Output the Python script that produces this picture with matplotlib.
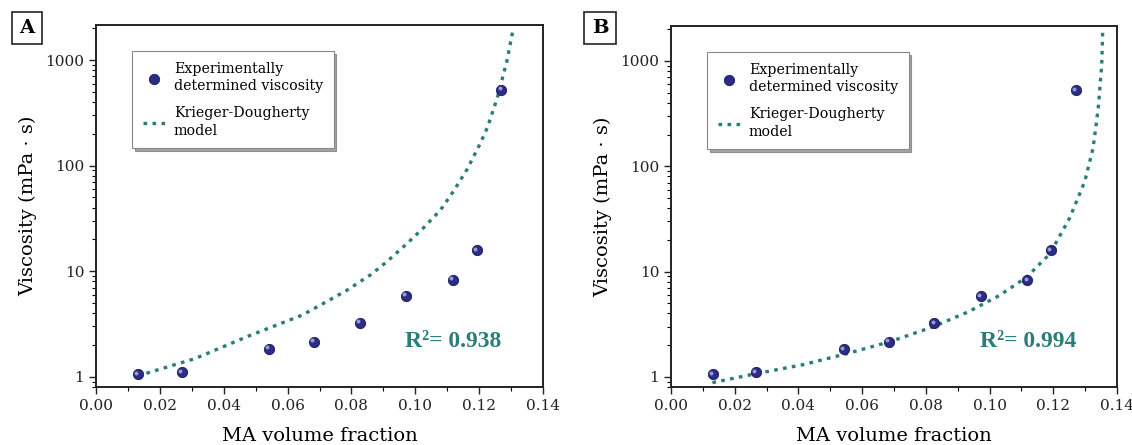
import matplotlib.pyplot as plt
from matplotlib.ticker import FixedLocator, LogLocator, NullFormatter, FuncFormatter

plt.rcParams["font.family"] = ["DejaVu Serif"]

# measured points (same in both panels)
phi = [0.0132, 0.0268, 0.0543, 0.0684, 0.0827, 0.0972, 0.1119, 0.1193, 0.1270]
visc = [1.06, 1.11, 1.84, 2.15, 3.25, 5.85, 8.33, 15.9, 526]

# Krieger-Dougherty curve
kd_a_x = [0.0132, 0.0154, 0.0311, 0.0479, 0.0647, 0.0783, 0.0859, 0.0911,
          0.0974, 0.1026, 0.1079, 0.1121, 0.1163, 0.1205, 0.1226, 0.1257,
          0.1287, 0.1305]
kd_a_y = [1.00, 1.07, 1.49, 2.44, 3.85, 6.52, 9.2, 12.3,
          18.3, 25.8, 38, 58, 93, 166, 230, 441,
          980, 1870]

kd_b_x = [0.0130, 0.0266, 0.0413, 0.0549, 0.0686, 0.0822, 0.0932, 0.1030,
          0.1116, 0.1189, 0.1252, 0.1299, 0.1325, 0.1341, 0.1352, 0.1355]
kd_b_y = [0.88, 1.07, 1.30, 1.65, 2.15, 2.98, 4.13, 5.9,
          8.83, 14.7, 32.5, 72, 149, 355, 910, 1870]

r2_labels = ["R²= 0.938", "R²= 0.994"]
panel_labels = ["A", "B"]

TEAL = "#2a7d78"
NAVY = "#2c2c84"

fig = plt.figure(figsize=(11.32, 4.45), dpi=100)
W, H = 1132, 445
axes = [
    fig.add_axes([96 / W, 58 / H, (543 - 96) / W, (387 - 25) / H]),
    fig.add_axes([671 / W, 58 / H, (1117 - 671) / W, (387 - 26) / H]),
]
curves = [(kd_a_x, kd_a_y), (kd_b_x, kd_b_y)]
legend_pos = [(132, 51), (707, 52)]

for i, ax in enumerate(axes):
    cx, cy = curves[i]
    ax.plot(cx, cy, color=TEAL, linewidth=2.4, linestyle=(0, (1.1, 1.6)),
            label="Krieger-Dougherty\nmodel", zorder=2)
    ax.scatter(phi, visc, s=55, color=NAVY, edgecolor="#1a1a5a", linewidth=0.6,
               zorder=3, label="Experimentally\ndetermined viscosity")
    # small highlight on the spheres
    ax.scatter([p - 0.0006 for p in phi], [v * 1.03 for v in visc], s=8,
               color="#9a9ad8", linewidth=0, zorder=4)

    ax.set_yscale("log")
    ax.set_xlim(0, 0.14)
    ax.set_ylim(0.8, 2150)
    ax.xaxis.set_major_locator(FixedLocator([0, 0.02, 0.04, 0.06, 0.08, 0.10, 0.12, 0.14]))
    ax.xaxis.set_minor_locator(FixedLocator([0.01, 0.03, 0.05, 0.07, 0.09, 0.11, 0.13]))
    ax.xaxis.set_major_formatter(FuncFormatter(lambda v, p: f"{v:.2f}"))
    ax.yaxis.set_major_locator(FixedLocator([1, 10, 100, 1000]))
    ax.yaxis.set_minor_locator(LogLocator(base=10, subs=range(2, 10)))
    ax.yaxis.set_minor_formatter(NullFormatter())
    ax.yaxis.set_major_formatter(FuncFormatter(lambda v, p: f"{v:.0f}"))
    ax.tick_params(axis="both", which="major", direction="out", length=5,
                   width=1, labelsize=11, colors="#222222")
    ax.tick_params(axis="both", which="minor", direction="out", length=3, width=0.8)
    for s in ax.spines.values():
        s.set_linewidth(1.4)
        s.set_color("#222222")

    ax.set_xlabel("MA volume fraction", fontsize=14, labelpad=10)
    ax.set_ylabel("Viscosity (mPa · s)", fontsize=14, labelpad=6)

    handles, labels = ax.get_legend_handles_labels()
    lx, ly = legend_pos[i]
    leg = ax.legend(handles[::-1], labels[::-1], loc="upper left",
                    bbox_to_anchor=(lx / W, 1 - ly / H),
                    bbox_transform=fig.transFigure,
                    fontsize=10.2, frameon=True, fancybox=False, shadow=True,
                    edgecolor="#888888", framealpha=1, handlelength=1.6,
                    handletextpad=0.6, borderpad=0.75, labelspacing=0.95,
                    borderaxespad=0)
    leg.get_frame().set_linewidth(0.8)
    for t in leg.get_texts():
        t.set_linespacing(1.3)

    ax.text(0.80, 0.125, r2_labels[i], transform=ax.transAxes, fontsize=17,
            fontweight="bold", family="Liberation Serif",
            color=TEAL, ha="center", va="center")

    bx = (10 + 17) / W if i == 0 else (582 + 18) / W
    fig.text(bx, 1 - 28 / H, panel_labels[i], fontsize=14, fontweight="bold",
             ha="center", va="center",
             bbox=dict(boxstyle="square,pad=0.38", facecolor="white",
                       edgecolor="#222222", linewidth=1.2))

fig.savefig("out.png", dpi=100)
